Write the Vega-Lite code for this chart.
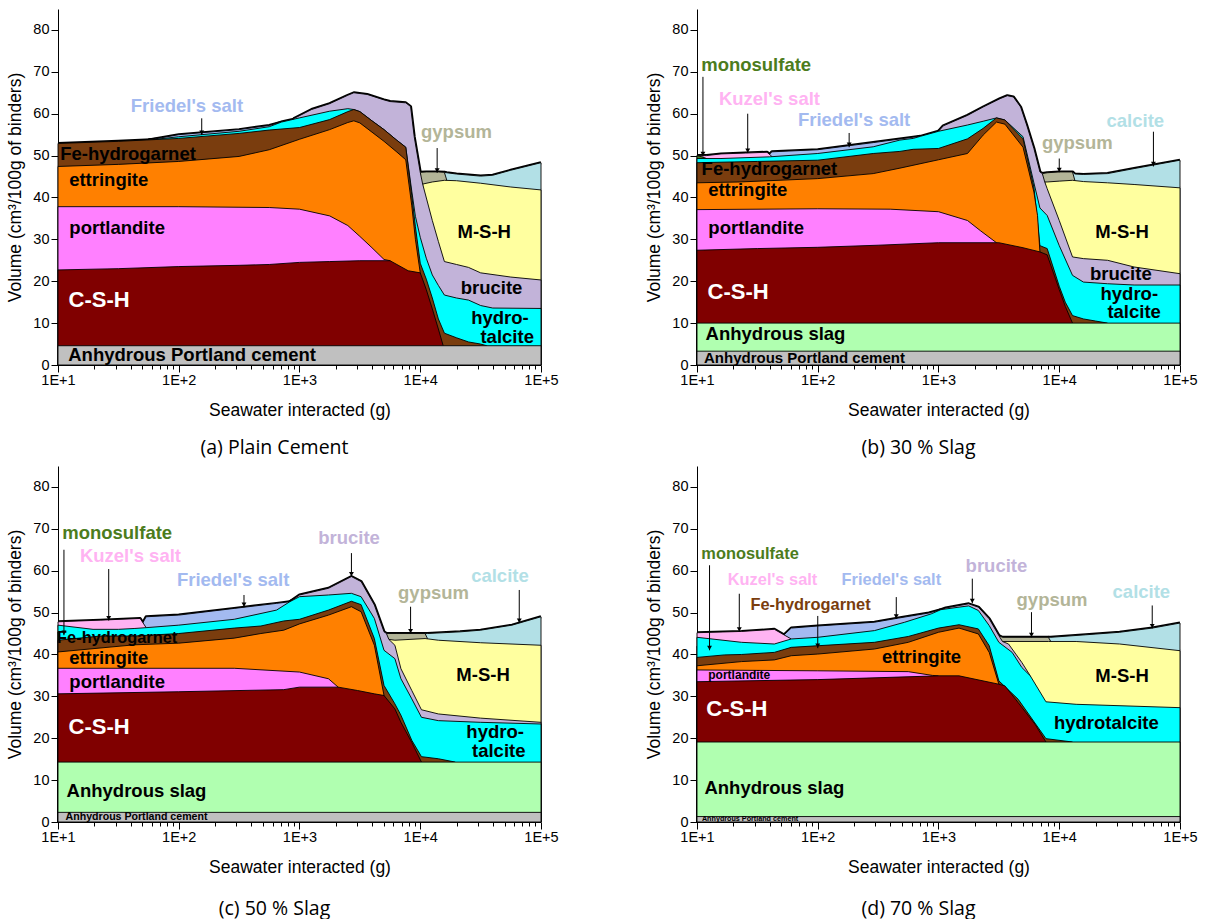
{
"$schema": "https://vega.github.io/schema/vega-lite/v6.json",
"background": "white",
"padding": {"left": 6, "top": 9, "right": 0, "bottom": 0},
"config": {"view": {"stroke": null}, "font": "Liberation Sans"},
"datasets": {
"areas": [
{"p":"a","k":"c01","x":15849,"y":46.0},{"p":"a","k":"c01","x":16596,"y":45.9},{"p":"a","k":"c01","x":19953,"y":45.6},{"p":"a","k":"c01","x":31623,"y":45.1},{"p":"a","k":"c01","x":39811,"y":45.3},{"p":"a","k":"c01","x":56234,"y":46.5},{"p":"a","k":"c01","x":100000,"y":48.3},
{"p":"a","k":"c02","x":10000,"y":46.0},{"p":"a","k":"c02","x":11220,"y":46.1},{"p":"a","k":"c02","x":14125,"y":46.1},{"p":"a","k":"c02","x":15849,"y":46.0},{"p":"a","k":"c02","x":16596,"y":44.1},
{"p":"a","k":"c03","x":10471,"y":43.2},{"p":"a","k":"c03","x":12589,"y":43.7},{"p":"a","k":"c03","x":15849,"y":44.1},{"p":"a","k":"c03","x":19953,"y":44.0},{"p":"a","k":"c03","x":31623,"y":43.4},{"p":"a","k":"c03","x":56234,"y":42.5},{"p":"a","k":"c03","x":100000,"y":41.8},
{"p":"a","k":"c04","x":891,"y":58.8},{"p":"a","k":"c04","x":1259,"y":61.0},{"p":"a","k":"c04","x":1778,"y":62.4},{"p":"a","k":"c04","x":2512,"y":64.4},{"p":"a","k":"c04","x":2818,"y":65.0},{"p":"a","k":"c04","x":3631,"y":64.6},{"p":"a","k":"c04","x":5012,"y":63.3},{"p":"a","k":"c04","x":5623,"y":62.9},{"p":"a","k":"c04","x":7586,"y":62.6},{"p":"a","k":"c04","x":8318,"y":61.7},{"p":"a","k":"c04","x":8913,"y":54.5},{"p":"a","k":"c04","x":10000,"y":46.0},{"p":"a","k":"c04","x":10471,"y":43.2},{"p":"a","k":"c04","x":12589,"y":34.5},{"p":"a","k":"c04","x":14125,"y":29.5},{"p":"a","k":"c04","x":15849,"y":24.7},{"p":"a","k":"c04","x":19953,"y":24.0},{"p":"a","k":"c04","x":25119,"y":23.3},{"p":"a","k":"c04","x":31623,"y":22.0},{"p":"a","k":"c04","x":56234,"y":21.0},{"p":"a","k":"c04","x":100000,"y":20.3},
{"p":"a","k":"c05","x":56.2,"y":53.7},{"p":"a","k":"c05","x":100,"y":55.0},{"p":"a","k":"c05","x":316,"y":56.2},{"p":"a","k":"c05","x":562,"y":57.2},{"p":"a","k":"c05","x":708,"y":58.0},
{"p":"a","k":"c08","x":56.2,"y":53.7},{"p":"a","k":"c08","x":100,"y":54.5},{"p":"a","k":"c08","x":316,"y":55.8},{"p":"a","k":"c08","x":562,"y":56.9},{"p":"a","k":"c08","x":708,"y":58.0},{"p":"a","k":"c08","x":1000,"y":59.0},{"p":"a","k":"c08","x":1778,"y":60.6},{"p":"a","k":"c08","x":2512,"y":61.2},{"p":"a","k":"c08","x":2818,"y":61.0},{"p":"a","k":"c08","x":3162,"y":60.5},{"p":"a","k":"c08","x":3981,"y":58.3},{"p":"a","k":"c08","x":5012,"y":56.2},{"p":"a","k":"c08","x":6310,"y":53.8},{"p":"a","k":"c08","x":7586,"y":52.0},{"p":"a","k":"c08","x":8511,"y":41.5},{"p":"a","k":"c08","x":9120,"y":35.5},{"p":"a","k":"c08","x":10000,"y":30.5},{"p":"a","k":"c08","x":11220,"y":25.5},{"p":"a","k":"c08","x":12589,"y":21.5},{"p":"a","k":"c08","x":14125,"y":19.0},{"p":"a","k":"c08","x":15849,"y":16.7},{"p":"a","k":"c08","x":19953,"y":16.0},{"p":"a","k":"c08","x":25119,"y":15.5},{"p":"a","k":"c08","x":31623,"y":14.2},{"p":"a","k":"c08","x":39811,"y":13.6},{"p":"a","k":"c08","x":100000,"y":13.5},
{"p":"a","k":"c09","x":10,"y":52.9},{"p":"a","k":"c09","x":31.6,"y":53.4},{"p":"a","k":"c09","x":100,"y":54.1},{"p":"a","k":"c09","x":316,"y":55.3},{"p":"a","k":"c09","x":562,"y":56.1},{"p":"a","k":"c09","x":1000,"y":56.7},{"p":"a","k":"c09","x":1778,"y":58.6},{"p":"a","k":"c09","x":2512,"y":60.5},{"p":"a","k":"c09","x":2818,"y":61.0},{"p":"a","k":"c09","x":3162,"y":60.5},{"p":"a","k":"c09","x":3981,"y":58.3},{"p":"a","k":"c09","x":5012,"y":56.2},{"p":"a","k":"c09","x":6310,"y":53.8},{"p":"a","k":"c09","x":7586,"y":52.0},{"p":"a","k":"c09","x":8511,"y":40.5},{"p":"a","k":"c09","x":9120,"y":33.0},{"p":"a","k":"c09","x":10000,"y":24.3},{"p":"a","k":"c09","x":11220,"y":20.5},{"p":"a","k":"c09","x":12589,"y":16.0},{"p":"a","k":"c09","x":14125,"y":11.0},{"p":"a","k":"c09","x":15849,"y":7.6},{"p":"a","k":"c09","x":19953,"y":6.5},{"p":"a","k":"c09","x":25119,"y":5.5},{"p":"a","k":"c09","x":31623,"y":5.0},{"p":"a","k":"c09","x":35481,"y":4.6},
{"p":"a","k":"c10","x":10,"y":47.4},{"p":"a","k":"c10","x":31.6,"y":47.9},{"p":"a","k":"c10","x":100,"y":48.6},{"p":"a","k":"c10","x":316,"y":49.8},{"p":"a","k":"c10","x":562,"y":51.4},{"p":"a","k":"c10","x":1000,"y":53.9},{"p":"a","k":"c10","x":1778,"y":56.2},{"p":"a","k":"c10","x":2512,"y":57.9},{"p":"a","k":"c10","x":2818,"y":58.3},{"p":"a","k":"c10","x":3162,"y":57.8},{"p":"a","k":"c10","x":3981,"y":55.6},{"p":"a","k":"c10","x":5012,"y":53.4},{"p":"a","k":"c10","x":6310,"y":51.0},{"p":"a","k":"c10","x":7586,"y":49.0},{"p":"a","k":"c10","x":8511,"y":38.0},{"p":"a","k":"c10","x":9120,"y":30.0},{"p":"a","k":"c10","x":10000,"y":22.0},
{"p":"a","k":"c11","x":10,"y":37.8},{"p":"a","k":"c11","x":100,"y":37.8},{"p":"a","k":"c11","x":562,"y":37.6},{"p":"a","k":"c11","x":1000,"y":37.2},{"p":"a","k":"c11","x":1778,"y":35.6},{"p":"a","k":"c11","x":2512,"y":33.3},{"p":"a","k":"c11","x":3162,"y":30.7},{"p":"a","k":"c11","x":3981,"y":28.0},{"p":"a","k":"c11","x":5012,"y":25.2},{"p":"a","k":"c11","x":5623,"y":24.9},
{"p":"a","k":"c12","x":10,"y":22.7},{"p":"a","k":"c12","x":31.6,"y":23.0},{"p":"a","k":"c12","x":100,"y":23.5},{"p":"a","k":"c12","x":316,"y":23.8},{"p":"a","k":"c12","x":562,"y":24.0},{"p":"a","k":"c12","x":1000,"y":24.5},{"p":"a","k":"c12","x":1778,"y":24.7},{"p":"a","k":"c12","x":3162,"y":24.9},{"p":"a","k":"c12","x":5623,"y":24.9},{"p":"a","k":"c12","x":7943,"y":22.5},{"p":"a","k":"c12","x":10000,"y":22.0},{"p":"a","k":"c12","x":11220,"y":18.0},{"p":"a","k":"c12","x":12589,"y":13.4},{"p":"a","k":"c12","x":14125,"y":8.6},{"p":"a","k":"c12","x":15488,"y":4.6},
{"p":"a","k":"c14","x":10,"y":4.6},{"p":"a","k":"c14","x":100000,"y":4.6},

{"p":"b","k":"c01","x":12882,"y":46.1},{"p":"b","k":"c01","x":13490,"y":45.6},{"p":"b","k":"c01","x":15849,"y":45.5},{"p":"b","k":"c01","x":25119,"y":45.7},{"p":"b","k":"c01","x":41687,"y":46.9},{"p":"b","k":"c01","x":100000,"y":48.9},
{"p":"b","k":"c02","x":7244,"y":45.7},{"p":"b","k":"c02","x":7943,"y":45.9},{"p":"b","k":"c02","x":10000,"y":46.1},{"p":"b","k":"c02","x":12882,"y":46.1},{"p":"b","k":"c02","x":13490,"y":44.0},
{"p":"b","k":"c03","x":7586,"y":43.7},{"p":"b","k":"c03","x":7943,"y":43.7},{"p":"b","k":"c03","x":10000,"y":43.9},{"p":"b","k":"c03","x":12882,"y":44.1},{"p":"b","k":"c03","x":15849,"y":43.8},{"p":"b","k":"c03","x":25119,"y":43.5},{"p":"b","k":"c03","x":41687,"y":43.1},{"p":"b","k":"c03","x":100000,"y":42.3},
{"p":"b","k":"c04","x":1000,"y":55.8},{"p":"b","k":"c04","x":1096,"y":57.1},{"p":"b","k":"c04","x":1738,"y":59.6},{"p":"b","k":"c04","x":2344,"y":61.6},{"p":"b","k":"c04","x":3236,"y":63.6},{"p":"b","k":"c04","x":3715,"y":64.3},{"p":"b","k":"c04","x":4169,"y":64.0},{"p":"b","k":"c04","x":4786,"y":61.6},{"p":"b","k":"c04","x":5370,"y":57.3},{"p":"b","k":"c04","x":6166,"y":51.7},{"p":"b","k":"c04","x":6918,"y":46.1},{"p":"b","k":"c04","x":7244,"y":45.7},{"p":"b","k":"c04","x":7586,"y":43.7},{"p":"b","k":"c04","x":7943,"y":42.1},{"p":"b","k":"c04","x":10000,"y":34.5},{"p":"b","k":"c04","x":12882,"y":25.8},{"p":"b","k":"c04","x":15849,"y":25.4},{"p":"b","k":"c04","x":25119,"y":25.0},{"p":"b","k":"c04","x":41687,"y":23.4},{"p":"b","k":"c04","x":100000,"y":21.8},
{"p":"b","k":"c05","x":38.0,"y":49.7},{"p":"b","k":"c05","x":41.7,"y":50.9},{"p":"b","k":"c05","x":100,"y":51.4},{"p":"b","k":"c05","x":288,"y":53.1},{"p":"b","k":"c05","x":617,"y":54.4},{"p":"b","k":"c05","x":708,"y":54.6},
{"p":"b","k":"c06","x":10,"y":50.0},{"p":"b","k":"c06","x":12.0,"y":50.0},{"p":"b","k":"c06","x":15.8,"y":50.4},{"p":"b","k":"c06","x":25.1,"y":50.6},{"p":"b","k":"c06","x":38.0,"y":50.8},{"p":"b","k":"c06","x":41.7,"y":49.8},
{"p":"b","k":"c07","x":10,"y":50.0},{"p":"b","k":"c07","x":11.0,"y":49.7},{"p":"b","k":"c07","x":12.0,"y":49.3},
{"p":"b","k":"c08","x":10,"y":49.3},{"p":"b","k":"c08","x":15.8,"y":49.3},{"p":"b","k":"c08","x":39.8,"y":49.7},{"p":"b","k":"c08","x":100,"y":50.5},{"p":"b","k":"c08","x":288,"y":52.1},{"p":"b","k":"c08","x":479,"y":53.7},{"p":"b","k":"c08","x":617,"y":54.1},{"p":"b","k":"c08","x":708,"y":54.6},{"p":"b","k":"c08","x":1000,"y":55.8},{"p":"b","k":"c08","x":1738,"y":57.3},{"p":"b","k":"c08","x":2344,"y":58.2},{"p":"b","k":"c08","x":3020,"y":59.0},{"p":"b","k":"c08","x":3548,"y":58.5},{"p":"b","k":"c08","x":5012,"y":54.5},{"p":"b","k":"c08","x":6166,"y":43.5},{"p":"b","k":"c08","x":6918,"y":37.5},{"p":"b","k":"c08","x":7943,"y":35.7},{"p":"b","k":"c08","x":10000,"y":28.5},{"p":"b","k":"c08","x":12882,"y":21.4},{"p":"b","k":"c08","x":15849,"y":19.8},{"p":"b","k":"c08","x":25119,"y":19.4},{"p":"b","k":"c08","x":41687,"y":19.1},{"p":"b","k":"c08","x":100000,"y":19.1},
{"p":"b","k":"c09","x":10,"y":48.3},{"p":"b","k":"c09","x":31.6,"y":48.6},{"p":"b","k":"c09","x":100,"y":48.9},{"p":"b","k":"c09","x":288,"y":50.5},{"p":"b","k":"c09","x":479,"y":51.0},{"p":"b","k":"c09","x":617,"y":51.5},{"p":"b","k":"c09","x":1000,"y":51.7},{"p":"b","k":"c09","x":1738,"y":54.0},{"p":"b","k":"c09","x":2344,"y":56.5},{"p":"b","k":"c09","x":3020,"y":59.0},{"p":"b","k":"c09","x":3548,"y":58.5},{"p":"b","k":"c09","x":5012,"y":54.0},{"p":"b","k":"c09","x":6166,"y":42.5},{"p":"b","k":"c09","x":6918,"y":28.5},{"p":"b","k":"c09","x":7943,"y":27.8},{"p":"b","k":"c09","x":10000,"y":18.8},{"p":"b","k":"c09","x":11220,"y":15.0},{"p":"b","k":"c09","x":12882,"y":11.8},{"p":"b","k":"c09","x":15849,"y":11.0},{"p":"b","k":"c09","x":19953,"y":10.5},{"p":"b","k":"c09","x":25119,"y":10.0},
{"p":"b","k":"c10","x":10,"y":43.5},{"p":"b","k":"c10","x":22.4,"y":43.7},{"p":"b","k":"c10","x":100,"y":44.5},{"p":"b","k":"c10","x":288,"y":45.7},{"p":"b","k":"c10","x":479,"y":47.0},{"p":"b","k":"c10","x":1000,"y":49.0},{"p":"b","k":"c10","x":1738,"y":50.5},{"p":"b","k":"c10","x":2344,"y":54.9},{"p":"b","k":"c10","x":3020,"y":58.0},{"p":"b","k":"c10","x":3548,"y":57.5},{"p":"b","k":"c10","x":5012,"y":52.0},{"p":"b","k":"c10","x":6166,"y":41.3},{"p":"b","k":"c10","x":6607,"y":35.7},{"p":"b","k":"c10","x":6918,"y":27.0},
{"p":"b","k":"c11","x":10,"y":37.1},{"p":"b","k":"c11","x":100,"y":37.3},{"p":"b","k":"c11","x":398,"y":37.2},{"p":"b","k":"c11","x":1000,"y":36.6},{"p":"b","k":"c11","x":1738,"y":34.5},{"p":"b","k":"c11","x":2239,"y":32.0},{"p":"b","k":"c11","x":3020,"y":29.2},
{"p":"b","k":"c12","x":10,"y":27.4},{"p":"b","k":"c12","x":31.6,"y":27.8},{"p":"b","k":"c12","x":100,"y":28.1},{"p":"b","k":"c12","x":316,"y":28.6},{"p":"b","k":"c12","x":1000,"y":29.2},{"p":"b","k":"c12","x":3162,"y":29.2},{"p":"b","k":"c12","x":5012,"y":28.0},{"p":"b","k":"c12","x":6918,"y":27.0},{"p":"b","k":"c12","x":7943,"y":26.3},{"p":"b","k":"c12","x":10000,"y":18.0},{"p":"b","k":"c12","x":11220,"y":14.0},{"p":"b","k":"c12","x":12882,"y":10.0},
{"p":"b","k":"c13","x":10,"y":10.0},{"p":"b","k":"c13","x":100000,"y":10.0},
{"p":"b","k":"c14","x":10,"y":3.3},{"p":"b","k":"c14","x":100000,"y":3.3},

{"p":"c","k":"c01","x":10965,"y":45.0},{"p":"c","k":"c01","x":11482,"y":45.0},{"p":"c","k":"c01","x":21380,"y":45.4},{"p":"c","k":"c01","x":31623,"y":45.8},{"p":"c","k":"c01","x":57544,"y":47.0},{"p":"c","k":"c01","x":100000,"y":49.0},
{"p":"c","k":"c02","x":5248,"y":45.0},{"p":"c","k":"c02","x":6310,"y":45.0},{"p":"c","k":"c02","x":10965,"y":45.0},{"p":"c","k":"c02","x":11482,"y":43.8},
{"p":"c","k":"c03","x":5495,"y":43.6},{"p":"c","k":"c03","x":6166,"y":43.4},{"p":"c","k":"c03","x":10965,"y":43.8},{"p":"c","k":"c03","x":14125,"y":43.4},{"p":"c","k":"c03","x":31623,"y":42.8},{"p":"c","k":"c03","x":100000,"y":42.2},
{"p":"c","k":"c04","x":832,"y":52.6},{"p":"c","k":"c04","x":1000,"y":54.2},{"p":"c","k":"c04","x":1738,"y":55.8},{"p":"c","k":"c04","x":2692,"y":58.6},{"p":"c","k":"c04","x":3236,"y":57.4},{"p":"c","k":"c04","x":4169,"y":51.8},{"p":"c","k":"c04","x":5012,"y":45.4},{"p":"c","k":"c04","x":5248,"y":45.0},{"p":"c","k":"c04","x":5495,"y":43.6},{"p":"c","k":"c04","x":6166,"y":42.2},{"p":"c","k":"c04","x":6918,"y":36.6},{"p":"c","k":"c04","x":8511,"y":31.4},{"p":"c","k":"c04","x":10233,"y":26.8},{"p":"c","k":"c04","x":14125,"y":25.8},{"p":"c","k":"c04","x":31623,"y":24.8},{"p":"c","k":"c04","x":100000,"y":23.8},
{"p":"c","k":"c05","x":47.9,"y":46.4},{"p":"c","k":"c05","x":53.7,"y":49.0},{"p":"c","k":"c05","x":100,"y":49.4},{"p":"c","k":"c05","x":288,"y":51.0},{"p":"c","k":"c05","x":646,"y":52.2},{"p":"c","k":"c05","x":832,"y":52.6},
{"p":"c","k":"c06","x":10,"y":47.8},{"p":"c","k":"c06","x":22.4,"y":48.2},{"p":"c","k":"c06","x":47.9,"y":48.6},{"p":"c","k":"c06","x":53.7,"y":46.4},
{"p":"c","k":"c07","x":10,"y":45.4},{"p":"c","k":"c07","x":15.1,"y":44.6},{"p":"c","k":"c07","x":17.4,"y":44.1},
{"p":"c","k":"c08","x":10,"y":47.0},{"p":"c","k":"c08","x":19.5,"y":46.0},{"p":"c","k":"c08","x":31.6,"y":46.0},{"p":"c","k":"c08","x":42.7,"y":46.2},{"p":"c","k":"c08","x":53.7,"y":46.4},{"p":"c","k":"c08","x":100,"y":47.0},{"p":"c","k":"c08","x":288,"y":48.4},{"p":"c","k":"c08","x":646,"y":50.6},{"p":"c","k":"c08","x":832,"y":52.6},{"p":"c","k":"c08","x":1000,"y":53.8},{"p":"c","k":"c08","x":1738,"y":54.2},{"p":"c","k":"c08","x":2692,"y":54.6},{"p":"c","k":"c08","x":3236,"y":53.8},{"p":"c","k":"c08","x":4169,"y":48.6},{"p":"c","k":"c08","x":5012,"y":41.0},{"p":"c","k":"c08","x":6166,"y":39.0},{"p":"c","k":"c08","x":6918,"y":34.2},{"p":"c","k":"c08","x":8511,"y":29.4},{"p":"c","k":"c08","x":10233,"y":25.0},{"p":"c","k":"c08","x":14125,"y":24.2},{"p":"c","k":"c08","x":31623,"y":23.8},{"p":"c","k":"c08","x":100000,"y":23.4},
{"p":"c","k":"c09","x":10,"y":43.4},{"p":"c","k":"c09","x":22.4,"y":44.4},{"p":"c","k":"c09","x":42.7,"y":44.4},{"p":"c","k":"c09","x":100,"y":45.0},{"p":"c","k":"c09","x":288,"y":46.3},{"p":"c","k":"c09","x":479,"y":46.8},{"p":"c","k":"c09","x":741,"y":48.0},{"p":"c","k":"c09","x":1000,"y":48.4},{"p":"c","k":"c09","x":1738,"y":50.6},{"p":"c","k":"c09","x":2692,"y":52.7},{"p":"c","k":"c09","x":3236,"y":51.9},{"p":"c","k":"c09","x":4169,"y":43.8},{"p":"c","k":"c09","x":5012,"y":32.6},{"p":"c","k":"c09","x":6166,"y":28.2},{"p":"c","k":"c09","x":6918,"y":25.5},{"p":"c","k":"c09","x":8511,"y":19.5},{"p":"c","k":"c09","x":10233,"y":15.6},{"p":"c","k":"c09","x":14125,"y":15.1},{"p":"c","k":"c09","x":19498,"y":14.3},
{"p":"c","k":"c10","x":10,"y":40.6},{"p":"c","k":"c10","x":42.7,"y":42.3},{"p":"c","k":"c10","x":100,"y":42.7},{"p":"c","k":"c10","x":288,"y":43.9},{"p":"c","k":"c10","x":479,"y":45.0},{"p":"c","k":"c10","x":741,"y":45.8},{"p":"c","k":"c10","x":1000,"y":47.3},{"p":"c","k":"c10","x":1738,"y":49.4},{"p":"c","k":"c10","x":2692,"y":51.4},{"p":"c","k":"c10","x":3236,"y":50.2},{"p":"c","k":"c10","x":4169,"y":42.2},{"p":"c","k":"c10","x":5012,"y":30.2},
{"p":"c","k":"c11","x":10,"y":36.7},{"p":"c","k":"c11","x":288,"y":36.7},{"p":"c","k":"c11","x":1000,"y":35.8},{"p":"c","k":"c11","x":1738,"y":34.2},{"p":"c","k":"c11","x":2089,"y":32.2},
{"p":"c","k":"c12","x":10,"y":30.6},{"p":"c","k":"c12","x":100,"y":31.1},{"p":"c","k":"c12","x":741,"y":31.6},{"p":"c","k":"c12","x":1000,"y":32.2},{"p":"c","k":"c12","x":2089,"y":32.2},{"p":"c","k":"c12","x":3020,"y":31.4},{"p":"c","k":"c12","x":4169,"y":30.6},{"p":"c","k":"c12","x":5012,"y":30.2},{"p":"c","k":"c12","x":6166,"y":27.0},{"p":"c","k":"c12","x":6918,"y":23.8},{"p":"c","k":"c12","x":8511,"y":19.0},{"p":"c","k":"c12","x":10233,"y":14.3},
{"p":"c","k":"c13","x":10,"y":14.3},{"p":"c","k":"c13","x":100000,"y":14.3},
{"p":"c","k":"c14","x":10,"y":2.3},{"p":"c","k":"c14","x":100000,"y":2.3},

{"p":"d","k":"c01","x":8128,"y":44.1},{"p":"d","k":"c01","x":8511,"y":44.1},{"p":"d","k":"c01","x":16596,"y":44.7},{"p":"d","k":"c01","x":31623,"y":45.3},{"p":"d","k":"c01","x":58884,"y":46.3},{"p":"d","k":"c01","x":100000,"y":47.5},
{"p":"d","k":"c02","x":3162,"y":44.5},{"p":"d","k":"c02","x":3388,"y":44.1},{"p":"d","k":"c02","x":8128,"y":44.1},{"p":"d","k":"c02","x":8511,"y":43.1},
{"p":"d","k":"c03","x":3388,"y":43.1},{"p":"d","k":"c03","x":8128,"y":43.1},{"p":"d","k":"c03","x":13804,"y":43.1},{"p":"d","k":"c03","x":31623,"y":42.5},{"p":"d","k":"c03","x":100000,"y":40.9},
{"p":"d","k":"c04","x":1047,"y":50.7},{"p":"d","k":"c04","x":1148,"y":51.1},{"p":"d","k":"c04","x":1778,"y":52.1},{"p":"d","k":"c04","x":2138,"y":51.3},{"p":"d","k":"c04","x":2630,"y":48.5},{"p":"d","k":"c04","x":3162,"y":44.5},{"p":"d","k":"c04","x":3388,"y":43.1},{"p":"d","k":"c04","x":3802,"y":42.5},{"p":"d","k":"c04","x":4898,"y":38.1},{"p":"d","k":"c04","x":5754,"y":34.9},
{"p":"d","k":"c05","x":43.7,"y":42.5},{"p":"d","k":"c05","x":60.3,"y":46.3},{"p":"d","k":"c05","x":100,"y":46.8},{"p":"d","k":"c05","x":295,"y":47.7},{"p":"d","k":"c05","x":468,"y":48.7},{"p":"d","k":"c05","x":832,"y":49.9},{"p":"d","k":"c05","x":1047,"y":50.7},
{"p":"d","k":"c06","x":10,"y":45.2},{"p":"d","k":"c06","x":23.4,"y":45.5},{"p":"d","k":"c06","x":43.7,"y":46.0},{"p":"d","k":"c06","x":60.3,"y":43.7},
{"p":"d","k":"c07","x":10,"y":42.0},{"p":"d","k":"c07","x":17.0,"y":41.2},{"p":"d","k":"c07","x":23.4,"y":40.0},
{"p":"d","k":"c08","x":10,"y":44.1},{"p":"d","k":"c08","x":23.4,"y":42.9},{"p":"d","k":"c08","x":43.7,"y":42.5},{"p":"d","k":"c08","x":60.3,"y":43.7},{"p":"d","k":"c08","x":100,"y":44.1},{"p":"d","k":"c08","x":295,"y":45.7},{"p":"d","k":"c08","x":525,"y":47.7},{"p":"d","k":"c08","x":871,"y":49.7},{"p":"d","k":"c08","x":1047,"y":50.7},{"p":"d","k":"c08","x":1479,"y":51.3},{"p":"d","k":"c08","x":1778,"y":51.6},{"p":"d","k":"c08","x":2138,"y":50.5},{"p":"d","k":"c08","x":2630,"y":46.9},{"p":"d","k":"c08","x":3162,"y":42.9},{"p":"d","k":"c08","x":4074,"y":40.5},{"p":"d","k":"c08","x":4898,"y":36.9},{"p":"d","k":"c08","x":5754,"y":34.9},{"p":"d","k":"c08","x":7762,"y":28.7},{"p":"d","k":"c08","x":13804,"y":28.1},{"p":"d","k":"c08","x":100000,"y":27.3},
{"p":"d","k":"c09","x":10,"y":39.3},{"p":"d","k":"c09","x":17.0,"y":39.9},{"p":"d","k":"c09","x":23.4,"y":40.0},{"p":"d","k":"c09","x":43.7,"y":40.5},{"p":"d","k":"c09","x":60.3,"y":41.7},{"p":"d","k":"c09","x":295,"y":42.9},{"p":"d","k":"c09","x":562,"y":44.3},{"p":"d","k":"c09","x":1000,"y":46.3},{"p":"d","k":"c09","x":1479,"y":47.1},{"p":"d","k":"c09","x":2138,"y":46.1},{"p":"d","k":"c09","x":2630,"y":42.1},{"p":"d","k":"c09","x":3162,"y":33.7},{"p":"d","k":"c09","x":4571,"y":29.3},{"p":"d","k":"c09","x":7762,"y":19.9},{"p":"d","k":"c09","x":12882,"y":19.1},
{"p":"d","k":"c10","x":10,"y":37.3},{"p":"d","k":"c10","x":23.4,"y":38.3},{"p":"d","k":"c10","x":43.7,"y":38.7},{"p":"d","k":"c10","x":60.3,"y":39.7},{"p":"d","k":"c10","x":100,"y":40.1},{"p":"d","k":"c10","x":295,"y":41.3},{"p":"d","k":"c10","x":562,"y":42.9},{"p":"d","k":"c10","x":1000,"y":45.3},{"p":"d","k":"c10","x":1479,"y":46.3},{"p":"d","k":"c10","x":2138,"y":44.9},{"p":"d","k":"c10","x":2630,"y":40.5},{"p":"d","k":"c10","x":3162,"y":32.9},
{"p":"d","k":"c11","x":10,"y":36.3},{"p":"d","k":"c11","x":100,"y":36.1},{"p":"d","k":"c11","x":562,"y":35.9},{"p":"d","k":"c11","x":891,"y":35.0},{"p":"d","k":"c11","x":1000,"y":34.9},
{"p":"d","k":"c12","x":10,"y":33.5},{"p":"d","k":"c12","x":100,"y":34.0},{"p":"d","k":"c12","x":1000,"y":34.9},{"p":"d","k":"c12","x":1479,"y":34.9},{"p":"d","k":"c12","x":3162,"y":32.9},{"p":"d","k":"c12","x":3548,"y":32.5},{"p":"d","k":"c12","x":4571,"y":28.5},{"p":"d","k":"c12","x":6310,"y":23.3},{"p":"d","k":"c12","x":7762,"y":19.1},
{"p":"d","k":"c13","x":10,"y":19.1},{"p":"d","k":"c13","x":100000,"y":19.1},
{"p":"d","k":"c14","x":10,"y":1.3},{"p":"d","k":"c14","x":100000,"y":1.3}
],
"labels": [
{"p":"a","t":"Friedel's salt","x":117,"y":61.9,"k":"c05","s":"L"},
{"p":"a","t":"Fe-hydrogarnet","x":38,"y":50.4,"k":"blk","s":"L"},
{"p":"a","t":"ettringite","x":26.3,"y":44.2,"k":"blk","s":"L"},
{"p":"a","t":"portlandite","x":30.9,"y":32.6,"k":"blk","s":"L"},
{"p":"a","t":"C-S-H","x":21.9,"y":15.5,"k":"wht","s":"XL"},
{"p":"a","t":"Anhydrous Portland cement","x":129,"y":2.4,"k":"blk","s":"L"},
{"p":"a","t":"gypsum","x":19953,"y":55.6,"k":"c02","s":"L"},
{"p":"a","t":"M-S-H","x":33884,"y":31.7,"k":"blk","s":"L"},
{"p":"a","t":"brucite","x":38905,"y":18.3,"k":"blk","s":"L"},
{"p":"a","t":"hydro-","x":45709,"y":11.2,"k":"blk","s":"L"},
{"p":"a","t":"talcite","x":52481,"y":6.6,"k":"blk","s":"L"},
{"p":"b","t":"monosulfate","x":30.9,"y":71.6,"k":"c07","s":"L"},
{"p":"b","t":"Kuzel's salt","x":39.8,"y":63.4,"k":"c06","s":"L"},
{"p":"b","t":"Friedel's salt","x":200,"y":58.5,"k":"c05","s":"L"},
{"p":"b","t":"Fe-hydrogarnet","x":39.8,"y":46.7,"k":"blk","s":"L"},
{"p":"b","t":"ettringite","x":26.3,"y":41.7,"k":"blk","s":"L"},
{"p":"b","t":"portlandite","x":30.9,"y":32.7,"k":"blk","s":"L"},
{"p":"b","t":"C-S-H","x":21.9,"y":17.4,"k":"wht","s":"XL"},
{"p":"b","t":"Anhydrous slag","x":44.7,"y":7.4,"k":"blk","s":"L"},
{"p":"b","t":"Anhydrous Portland cement","x":77.6,"y":1.7,"k":"blk","s":"M2"},
{"p":"b","t":"gypsum","x":14125,"y":52.9,"k":"c02","s":"L"},
{"p":"b","t":"calcite","x":42658,"y":58.2,"k":"c01","s":"L"},
{"p":"b","t":"M-S-H","x":33113,"y":31.7,"k":"blk","s":"L"},
{"p":"b","t":"brucite","x":32359,"y":21.8,"k":"blk","s":"L"},
{"p":"b","t":"hydro-","x":38019,"y":17.0,"k":"blk","s":"L"},
{"p":"b","t":"talcite","x":41687,"y":12.7,"k":"blk","s":"L"},
{"p":"c","t":"monosulfate","x":30.9,"y":69.0,"k":"c07","s":"L"},
{"p":"c","t":"Kuzel's salt","x":39.8,"y":63.4,"k":"c06","s":"L"},
{"p":"c","t":"Friedel's salt","x":282,"y":57.8,"k":"c05","s":"L"},
{"p":"c","t":"Fe-hydrogarnet","x":30.9,"y":43.9,"k":"blk","s":"M"},
{"p":"c","t":"ettringite","x":26.3,"y":39.1,"k":"blk","s":"L"},
{"p":"c","t":"portlandite","x":30.9,"y":33.4,"k":"blk","s":"L"},
{"p":"c","t":"C-S-H","x":21.9,"y":22.6,"k":"wht","s":"XL"},
{"p":"c","t":"Anhydrous slag","x":44.7,"y":7.5,"k":"blk","s":"L"},
{"p":"c","t":"Anhydrous Portland cement","x":44.7,"y":1.3,"k":"blk","s":"XS"},
{"p":"c","t":"brucite","x":2570,"y":67.8,"k":"c04","s":"L"},
{"p":"c","t":"gypsum","x":12882,"y":54.7,"k":"c02","s":"L"},
{"p":"c","t":"calcite","x":45709,"y":58.8,"k":"c01","s":"L"},
{"p":"c","t":"M-S-H","x":33113,"y":35.0,"k":"blk","s":"L"},
{"p":"c","t":"hydro-","x":41687,"y":21.6,"k":"blk","s":"L"},
{"p":"c","t":"talcite","x":44668,"y":17.0,"k":"blk","s":"L"},
{"p":"d","t":"monosulfate","x":27.5,"y":64.1,"k":"c07","s":"M"},
{"p":"d","t":"Kuzel's salt","x":42.2,"y":57.7,"k":"c06","s":"M"},
{"p":"d","t":"Fe-hydrogarnet","x":87.1,"y":51.9,"k":"c09","s":"M"},
{"p":"d","t":"Friedel's salt","x":407,"y":57.7,"k":"c05","s":"M"},
{"p":"d","t":"ettringite","x":724,"y":39.5,"k":"blk","s":"L"},
{"p":"d","t":"portlandite","x":22.4,"y":35.2,"k":"blk","s":"S"},
{"p":"d","t":"C-S-H","x":21.4,"y":26.9,"k":"wht","s":"XL"},
{"p":"d","t":"Anhydrous slag","x":43.7,"y":8.2,"k":"blk","s":"L"},
{"p":"d","t":"Anhydrous Portland cement","x":27.5,"y":0.8,"k":"blk","s":"XXS"},
{"p":"d","t":"brucite","x":3020,"y":61.1,"k":"c04","s":"L"},
{"p":"d","t":"gypsum","x":8710,"y":52.9,"k":"c02","s":"L"},
{"p":"d","t":"calcite","x":47863,"y":54.9,"k":"c01","s":"L"},
{"p":"d","t":"M-S-H","x":33113,"y":34.9,"k":"blk","s":"L"},
{"p":"d","t":"hydrotalcite","x":24547,"y":23.7,"k":"blk","s":"L"}
],
"arrows": [
{"p":"a","x":155,"y1":58.9,"y2":54.9},
{"p":"a","x":13804,"y1":51.8,"y2":45.9},
{"p":"b","x":11.2,"y1":68.8,"y2":49.8},
{"p":"b","x":26.3,"y1":60.0,"y2":50.6},
{"p":"b","x":182,"y1":55.4,"y2":52.0},
{"p":"b","x":10000,"y1":49.3,"y2":46.0},
{"p":"b","x":60256,"y1":55.7,"y2":47.4},
{"p":"c","x":11.2,"y1":65.0,"y2":44.6},
{"p":"c","x":26.3,"y1":60.4,"y2":48.1},
{"p":"c","x":347,"y1":54.2,"y2":51.3},
{"p":"c","x":2692,"y1":64.2,"y2":58.6},
{"p":"c","x":8318,"y1":51.4,"y2":45.0},
{"p":"c","x":66069,"y1":55.4,"y2":47.5},
{"p":"d","x":12.7,"y1":61.3,"y2":41.0},
{"p":"d","x":22.4,"y1":54.5,"y2":45.4},
{"p":"d","x":100,"y1":49.2,"y2":41.5},
{"p":"d","x":447,"y1":53.7,"y2":48.5},
{"p":"d","x":1905,"y1":58.1,"y2":52.2},
{"p":"d","x":5888,"y1":50.1,"y2":44.1},
{"p":"d","x":58884,"y1":51.7,"y2":46.2}
]
},
"columns": 2,
"spacing": {"row": 101, "column": 156},
"bounds": "flush",
"concat": [
{"width": 483, "height": 356,
"title": {"text": "(a) Plain Cement", "orient": "bottom", "offset": 20, "dx": -25, "anchor": "middle", "font": "Open Sans", "fontSize": 19.5, "fontWeight": "normal", "color": "black"},
"layer": [
{"data": {"name": "areas"}, "transform": [{"filter": "datum.p == 'a'"}], "mark": {"type": "line", "color": "black", "strokeWidth": 3, "strokeJoin": "round"},
 "encoding": {
  "x": {"field": "x", "type": "quantitative", "scale": {"type": "log", "domain": [10, 100000], "nice": false}, "axis": {"title": "Seawater interacted (g)", "values": [10,20,30,40,50,60,70,80,90,100,200,300,400,500,600,700,800,900,1000,2000,3000,4000,5000,6000,7000,8000,9000,10000,20000,30000,40000,50000,60000,70000,80000,90000,100000], "labelExpr": "indexof([10,100,1000,10000,100000], datum.value) >= 0 ? '1E+' + round(log(datum.value)/LN10) : ''", "tickSize": {"condition": {"test": "indexof([10,100,1000,10000,100000], datum.value) >= 0", "value": 7}, "value": 4}, "grid": false, "labelFont": "Liberation Sans", "labelFontSize": 14.5, "labelColor": "black", "labelPadding": 1, "labelOverlap": false, "labelFlush": false, "labelBound": false, "titleFont": "Liberation Sans", "titleFontSize": 17.5, "titleFontWeight": "normal", "titleColor": "black", "titlePadding": 15, "domainColor": "black", "tickColor": "black"}},
  "y": {"field": "y", "type": "quantitative", "stack": null, "scale": {"domain": [0, 85], "nice": false, "zero": false}, "axis": {"title": "Volume (cm³/100g of binders)", "values": [0,5,10,15,20,25,30,35,40,45,50,55,60,65,70,75,80], "labelExpr": "datum.value % 10 == 0 ? datum.label : ''", "tickSize": {"condition": {"test": "datum.value % 10 == 0", "value": 7}, "value": 4}, "grid": false, "labelFont": "Liberation Sans", "labelFontSize": 14.5, "labelColor": "black", "labelPadding": 2, "labelOverlap": false, "labelFlush": false, "labelBound": false, "titleFont": "Liberation Sans", "titleFontSize": 17.5, "titleFontWeight": "normal", "titleColor": "black", "titlePadding": 8, "domainColor": "black", "tickColor": "black"}},
  "detail": {"field": "k"}}},
{"data": {"name": "areas"}, "transform": [{"filter": "datum.p == 'a'"}], "mark": {"type": "area", "stroke": "black", "strokeWidth": 0.9, "strokeJoin": "round", "opacity": 1},
 "encoding": {"x": {"field": "x", "type": "quantitative"}, "y": {"field": "y", "type": "quantitative", "stack": null},
  "color": {"field": "k", "type": "nominal", "legend": null, "scale": {"domain": ["c01","c02","c03","c04","c05","c06","c07","c08","c09","c10","c11","c12","c13","c14","blk","wht"], "range": ["#b2e0e6","#b3b598","#ffff9f","#c2b3d9","#a3baf0","#ffb3f2","#4c7c1c","#00ffff","#7a3d0e","#ff8000","#ff80ff","#800000","#b0ffb0","#c0c0c0","#000000","#ffffff"]}}}},
{"data": {"name": "arrows"}, "transform": [{"filter": "datum.p == 'a'"}], "mark": {"type": "rule", "color": "black", "strokeWidth": 1}, "encoding": {"x": {"field": "x", "type": "quantitative"}, "y": {"field": "y1", "type": "quantitative"}, "y2": {"field": "y2"}}},
{"data": {"name": "arrows"}, "transform": [{"filter": "datum.p == 'a'"}], "mark": {"type": "point", "shape": "triangle-down", "filled": true, "color": "black", "size": 24, "opacity": 1, "yOffset": -2.5}, "encoding": {"x": {"field": "x", "type": "quantitative"}, "y": {"field": "y2", "type": "quantitative"}}},
{"data": {"name": "labels"}, "transform": [{"filter": "datum.p == 'a'"}], "mark": {"type": "text", "font": "Liberation Sans", "fontWeight": "bold", "align": "center", "baseline": "middle", "fontSize": {"expr": "datum.s == 'XL' ? 22 : datum.s == 'L' ? 18.5 : datum.s == 'M' ? 16.4 : datum.s == 'M2' ? 15 : datum.s == 'S' ? 12 : datum.s == 'XS' ? 10.6 : 7.2"}},
 "encoding": {"x": {"field": "x", "type": "quantitative"}, "y": {"field": "y", "type": "quantitative"}, "text": {"field": "t"},
  "color": {"field": "k", "type": "nominal", "legend": null}}}
]},
{"width": 483, "height": 356,
"title": {"text": "(b) 30 % Slag", "orient": "bottom", "offset": 20, "dx": -20, "anchor": "middle", "font": "Open Sans", "fontSize": 19.5, "fontWeight": "normal", "color": "black"},
"layer": [
{"data": {"name": "areas"}, "transform": [{"filter": "datum.p == 'b'"}], "mark": {"type": "line", "color": "black", "strokeWidth": 3, "strokeJoin": "round"},
 "encoding": {
  "x": {"field": "x", "type": "quantitative", "scale": {"type": "log", "domain": [10, 100000], "nice": false}, "axis": {"title": "Seawater interacted (g)", "values": [10,20,30,40,50,60,70,80,90,100,200,300,400,500,600,700,800,900,1000,2000,3000,4000,5000,6000,7000,8000,9000,10000,20000,30000,40000,50000,60000,70000,80000,90000,100000], "labelExpr": "indexof([10,100,1000,10000,100000], datum.value) >= 0 ? '1E+' + round(log(datum.value)/LN10) : ''", "tickSize": {"condition": {"test": "indexof([10,100,1000,10000,100000], datum.value) >= 0", "value": 7}, "value": 4}, "grid": false, "labelFont": "Liberation Sans", "labelFontSize": 14.5, "labelColor": "black", "labelPadding": 1, "labelOverlap": false, "labelFlush": false, "labelBound": false, "titleFont": "Liberation Sans", "titleFontSize": 17.5, "titleFontWeight": "normal", "titleColor": "black", "titlePadding": 15, "domainColor": "black", "tickColor": "black"}},
  "y": {"field": "y", "type": "quantitative", "stack": null, "scale": {"domain": [0, 85], "nice": false, "zero": false}, "axis": {"title": "Volume (cm³/100g of binders)", "values": [0,5,10,15,20,25,30,35,40,45,50,55,60,65,70,75,80], "labelExpr": "datum.value % 10 == 0 ? datum.label : ''", "tickSize": {"condition": {"test": "datum.value % 10 == 0", "value": 7}, "value": 4}, "grid": false, "labelFont": "Liberation Sans", "labelFontSize": 14.5, "labelColor": "black", "labelPadding": 2, "labelOverlap": false, "labelFlush": false, "labelBound": false, "titleFont": "Liberation Sans", "titleFontSize": 17.5, "titleFontWeight": "normal", "titleColor": "black", "titlePadding": 8, "domainColor": "black", "tickColor": "black"}},
  "detail": {"field": "k"}}},
{"data": {"name": "areas"}, "transform": [{"filter": "datum.p == 'b'"}], "mark": {"type": "area", "stroke": "black", "strokeWidth": 0.9, "strokeJoin": "round", "opacity": 1},
 "encoding": {"x": {"field": "x", "type": "quantitative"}, "y": {"field": "y", "type": "quantitative", "stack": null},
  "color": {"field": "k", "type": "nominal", "legend": null, "scale": {"domain": ["c01","c02","c03","c04","c05","c06","c07","c08","c09","c10","c11","c12","c13","c14","blk","wht"], "range": ["#b2e0e6","#b3b598","#ffff9f","#c2b3d9","#a3baf0","#ffb3f2","#4c7c1c","#00ffff","#7a3d0e","#ff8000","#ff80ff","#800000","#b0ffb0","#c0c0c0","#000000","#ffffff"]}}}},
{"data": {"name": "arrows"}, "transform": [{"filter": "datum.p == 'b'"}], "mark": {"type": "rule", "color": "black", "strokeWidth": 1}, "encoding": {"x": {"field": "x", "type": "quantitative"}, "y": {"field": "y1", "type": "quantitative"}, "y2": {"field": "y2"}}},
{"data": {"name": "arrows"}, "transform": [{"filter": "datum.p == 'b'"}], "mark": {"type": "point", "shape": "triangle-down", "filled": true, "color": "black", "size": 24, "opacity": 1, "yOffset": -2.5}, "encoding": {"x": {"field": "x", "type": "quantitative"}, "y": {"field": "y2", "type": "quantitative"}}},
{"data": {"name": "labels"}, "transform": [{"filter": "datum.p == 'b'"}], "mark": {"type": "text", "font": "Liberation Sans", "fontWeight": "bold", "align": "center", "baseline": "middle", "fontSize": {"expr": "datum.s == 'XL' ? 22 : datum.s == 'L' ? 18.5 : datum.s == 'M' ? 16.4 : datum.s == 'M2' ? 15 : datum.s == 'S' ? 12 : datum.s == 'XS' ? 10.6 : 7.2"}},
 "encoding": {"x": {"field": "x", "type": "quantitative"}, "y": {"field": "y", "type": "quantitative"}, "text": {"field": "t"},
  "color": {"field": "k", "type": "nominal", "legend": null}}}
]},
{"width": 483, "height": 356,
"title": {"text": "(c) 50 % Slag", "orient": "bottom", "offset": 24, "dx": -25, "anchor": "middle", "font": "Open Sans", "fontSize": 19.5, "fontWeight": "normal", "color": "black"},
"layer": [
{"data": {"name": "areas"}, "transform": [{"filter": "datum.p == 'c'"}], "mark": {"type": "line", "color": "black", "strokeWidth": 3, "strokeJoin": "round"},
 "encoding": {
  "x": {"field": "x", "type": "quantitative", "scale": {"type": "log", "domain": [10, 100000], "nice": false}, "axis": {"title": "Seawater interacted (g)", "values": [10,20,30,40,50,60,70,80,90,100,200,300,400,500,600,700,800,900,1000,2000,3000,4000,5000,6000,7000,8000,9000,10000,20000,30000,40000,50000,60000,70000,80000,90000,100000], "labelExpr": "indexof([10,100,1000,10000,100000], datum.value) >= 0 ? '1E+' + round(log(datum.value)/LN10) : ''", "tickSize": {"condition": {"test": "indexof([10,100,1000,10000,100000], datum.value) >= 0", "value": 7}, "value": 4}, "grid": false, "labelFont": "Liberation Sans", "labelFontSize": 14.5, "labelColor": "black", "labelPadding": 1, "labelOverlap": false, "labelFlush": false, "labelBound": false, "titleFont": "Liberation Sans", "titleFontSize": 17.5, "titleFontWeight": "normal", "titleColor": "black", "titlePadding": 15, "domainColor": "black", "tickColor": "black"}},
  "y": {"field": "y", "type": "quantitative", "stack": null, "scale": {"domain": [0, 85], "nice": false, "zero": false}, "axis": {"title": "Volume (cm³/100g of binders)", "values": [0,5,10,15,20,25,30,35,40,45,50,55,60,65,70,75,80], "labelExpr": "datum.value % 10 == 0 ? datum.label : ''", "tickSize": {"condition": {"test": "datum.value % 10 == 0", "value": 7}, "value": 4}, "grid": false, "labelFont": "Liberation Sans", "labelFontSize": 14.5, "labelColor": "black", "labelPadding": 2, "labelOverlap": false, "labelFlush": false, "labelBound": false, "titleFont": "Liberation Sans", "titleFontSize": 17.5, "titleFontWeight": "normal", "titleColor": "black", "titlePadding": 8, "domainColor": "black", "tickColor": "black"}},
  "detail": {"field": "k"}}},
{"data": {"name": "areas"}, "transform": [{"filter": "datum.p == 'c'"}], "mark": {"type": "area", "stroke": "black", "strokeWidth": 0.9, "strokeJoin": "round", "opacity": 1},
 "encoding": {"x": {"field": "x", "type": "quantitative"}, "y": {"field": "y", "type": "quantitative", "stack": null},
  "color": {"field": "k", "type": "nominal", "legend": null, "scale": {"domain": ["c01","c02","c03","c04","c05","c06","c07","c08","c09","c10","c11","c12","c13","c14","blk","wht"], "range": ["#b2e0e6","#b3b598","#ffff9f","#c2b3d9","#a3baf0","#ffb3f2","#4c7c1c","#00ffff","#7a3d0e","#ff8000","#ff80ff","#800000","#b0ffb0","#c0c0c0","#000000","#ffffff"]}}}},
{"data": {"name": "arrows"}, "transform": [{"filter": "datum.p == 'c'"}], "mark": {"type": "rule", "color": "black", "strokeWidth": 1}, "encoding": {"x": {"field": "x", "type": "quantitative"}, "y": {"field": "y1", "type": "quantitative"}, "y2": {"field": "y2"}}},
{"data": {"name": "arrows"}, "transform": [{"filter": "datum.p == 'c'"}], "mark": {"type": "point", "shape": "triangle-down", "filled": true, "color": "black", "size": 24, "opacity": 1, "yOffset": -2.5}, "encoding": {"x": {"field": "x", "type": "quantitative"}, "y": {"field": "y2", "type": "quantitative"}}},
{"data": {"name": "labels"}, "transform": [{"filter": "datum.p == 'c'"}], "mark": {"type": "text", "font": "Liberation Sans", "fontWeight": "bold", "align": "center", "baseline": "middle", "fontSize": {"expr": "datum.s == 'XL' ? 22 : datum.s == 'L' ? 18.5 : datum.s == 'M' ? 16.4 : datum.s == 'M2' ? 15 : datum.s == 'S' ? 12 : datum.s == 'XS' ? 10.6 : 7.2"}},
 "encoding": {"x": {"field": "x", "type": "quantitative"}, "y": {"field": "y", "type": "quantitative"}, "text": {"field": "t"},
  "color": {"field": "k", "type": "nominal", "legend": null}}}
]},
{"width": 483, "height": 356,
"title": {"text": "(d) 70 % Slag", "orient": "bottom", "offset": 24, "dx": -20, "anchor": "middle", "font": "Open Sans", "fontSize": 19.5, "fontWeight": "normal", "color": "black"},
"layer": [
{"data": {"name": "areas"}, "transform": [{"filter": "datum.p == 'd'"}], "mark": {"type": "line", "color": "black", "strokeWidth": 3, "strokeJoin": "round"},
 "encoding": {
  "x": {"field": "x", "type": "quantitative", "scale": {"type": "log", "domain": [10, 100000], "nice": false}, "axis": {"title": "Seawater interacted (g)", "values": [10,20,30,40,50,60,70,80,90,100,200,300,400,500,600,700,800,900,1000,2000,3000,4000,5000,6000,7000,8000,9000,10000,20000,30000,40000,50000,60000,70000,80000,90000,100000], "labelExpr": "indexof([10,100,1000,10000,100000], datum.value) >= 0 ? '1E+' + round(log(datum.value)/LN10) : ''", "tickSize": {"condition": {"test": "indexof([10,100,1000,10000,100000], datum.value) >= 0", "value": 7}, "value": 4}, "grid": false, "labelFont": "Liberation Sans", "labelFontSize": 14.5, "labelColor": "black", "labelPadding": 1, "labelOverlap": false, "labelFlush": false, "labelBound": false, "titleFont": "Liberation Sans", "titleFontSize": 17.5, "titleFontWeight": "normal", "titleColor": "black", "titlePadding": 15, "domainColor": "black", "tickColor": "black"}},
  "y": {"field": "y", "type": "quantitative", "stack": null, "scale": {"domain": [0, 85], "nice": false, "zero": false}, "axis": {"title": "Volume (cm³/100g of binders)", "values": [0,5,10,15,20,25,30,35,40,45,50,55,60,65,70,75,80], "labelExpr": "datum.value % 10 == 0 ? datum.label : ''", "tickSize": {"condition": {"test": "datum.value % 10 == 0", "value": 7}, "value": 4}, "grid": false, "labelFont": "Liberation Sans", "labelFontSize": 14.5, "labelColor": "black", "labelPadding": 2, "labelOverlap": false, "labelFlush": false, "labelBound": false, "titleFont": "Liberation Sans", "titleFontSize": 17.5, "titleFontWeight": "normal", "titleColor": "black", "titlePadding": 8, "domainColor": "black", "tickColor": "black"}},
  "detail": {"field": "k"}}},
{"data": {"name": "areas"}, "transform": [{"filter": "datum.p == 'd'"}], "mark": {"type": "area", "stroke": "black", "strokeWidth": 0.9, "strokeJoin": "round", "opacity": 1},
 "encoding": {"x": {"field": "x", "type": "quantitative"}, "y": {"field": "y", "type": "quantitative", "stack": null},
  "color": {"field": "k", "type": "nominal", "legend": null, "scale": {"domain": ["c01","c02","c03","c04","c05","c06","c07","c08","c09","c10","c11","c12","c13","c14","blk","wht"], "range": ["#b2e0e6","#b3b598","#ffff9f","#c2b3d9","#a3baf0","#ffb3f2","#4c7c1c","#00ffff","#7a3d0e","#ff8000","#ff80ff","#800000","#b0ffb0","#c0c0c0","#000000","#ffffff"]}}}},
{"data": {"name": "arrows"}, "transform": [{"filter": "datum.p == 'd'"}], "mark": {"type": "rule", "color": "black", "strokeWidth": 1}, "encoding": {"x": {"field": "x", "type": "quantitative"}, "y": {"field": "y1", "type": "quantitative"}, "y2": {"field": "y2"}}},
{"data": {"name": "arrows"}, "transform": [{"filter": "datum.p == 'd'"}], "mark": {"type": "point", "shape": "triangle-down", "filled": true, "color": "black", "size": 24, "opacity": 1, "yOffset": -2.5}, "encoding": {"x": {"field": "x", "type": "quantitative"}, "y": {"field": "y2", "type": "quantitative"}}},
{"data": {"name": "labels"}, "transform": [{"filter": "datum.p == 'd'"}], "mark": {"type": "text", "font": "Liberation Sans", "fontWeight": "bold", "align": "center", "baseline": "middle", "fontSize": {"expr": "datum.s == 'XL' ? 22 : datum.s == 'L' ? 18.5 : datum.s == 'M' ? 16.4 : datum.s == 'M2' ? 15 : datum.s == 'S' ? 12 : datum.s == 'XS' ? 10.6 : 7.2"}},
 "encoding": {"x": {"field": "x", "type": "quantitative"}, "y": {"field": "y", "type": "quantitative"}, "text": {"field": "t"},
  "color": {"field": "k", "type": "nominal", "legend": null}}}
]}
]
}
